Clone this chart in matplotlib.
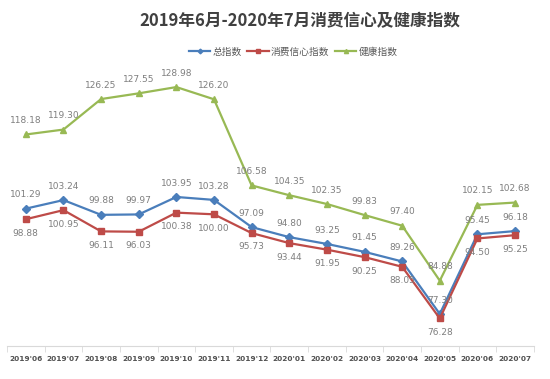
import matplotlib.pyplot as plt
import numpy as np

plt.rcParams['font.family'] = ['Noto Sans CJK SC', 'DejaVu Sans']

# data
months = ["2019'06", "2019'07", "2019'08", "2019'09", "2019'10", "2019'11", "2019'12",
          "2020'01", "2020'02", "2020'03", "2020'04", "2020'05", "2020'06", "2020'07"]
total = [101.29, 103.24, 99.88, 99.97, 103.95, 103.28, 97.09,
         94.80, 93.25, 91.45, 89.26, 77.30, 95.45, 96.18]
consumer = [98.88, 100.95, 96.11, 96.03, 100.38, 100.00, 95.73,
            93.44, 91.95, 90.25, 88.05, 76.28, 94.50, 95.25]
health = [118.18, 119.30, 126.25, 127.55, 128.98, 126.20, 106.58,
          104.35, 102.35, 99.83, 97.40, 84.88, 102.15, 102.68]

fig = plt.figure(figsize=(5.5, 3.79), dpi=100)
ax = fig.add_axes([0.0127, 0.087, 0.958, 0.753])

x = np.arange(len(months))
series = [
    (total, '总指数', '#4A7EBB', 'D', 4, 10),
    (consumer, '消费信心指数', '#BE4B48', 's', 5, -10),
    (health, '健康指数', '#98B954', '^', 5, 10),
]
for vals, name, color, mk, ms, off in series:
    ax.plot(x, vals, color=color, lw=1.6, marker=mk, markersize=ms, label=name)
    for xi, v in zip(x, vals):
        ax.annotate(f'{v:.2f}', (xi, v), xytext=(0, off), textcoords='offset points',
                    ha='center', va='center', fontsize=6.5, color='#7F7F7F',
                    family='DejaVu Sans')

ax.set_xlim(-0.5, len(months) - 0.5)
ax.set_ylim(70, 135)
ax.set_yticks([])
for s in ['top', 'right', 'left']:
    ax.spines[s].set_visible(False)
ax.spines['bottom'].set_color('#D9D9D9')
ax.set_xticks(x)
ax.set_xticklabels(months, fontsize=5.3, color='#505050', fontweight='semibold',
                   family='DejaVu Sans')
ax.tick_params(axis='x', length=0, pad=7)
ax.set_xticks(np.arange(-0.5, len(months), 1), minor=True)
ax.tick_params(axis='x', which='minor', length=4, color='#D9D9D9')

fig.text(0.545, 0.945, '2019年6月-2020年7月消费信心及健康指数', ha='center', va='center',
         fontsize=12, fontweight='bold', color='#404040')
ax.legend(loc='center', bbox_to_anchor=(0.543, 1.031), ncol=3, frameon=False,
          fontsize=7, handlelength=2.2, columnspacing=0.6, handletextpad=0.2,
          labelcolor='#595959', markerscale=0.6)

fig.savefig('out.png', dpi=100)
